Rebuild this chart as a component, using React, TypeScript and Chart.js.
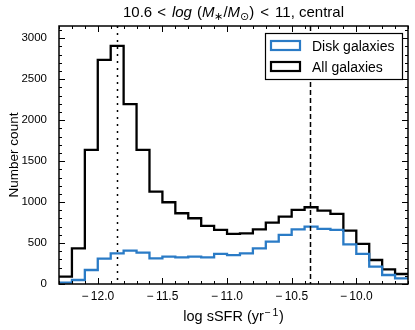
import React, { useEffect, useRef } from 'react';
import { Chart, registerables } from 'chart.js';

Chart.register(...registerables);

// ---- data ----
const binEdges = [
  -12.3, -12.2, -12.1, -12.0, -11.9, -11.8, -11.7, -11.6, -11.5, -11.4,
  -11.3, -11.2, -11.1, -11.0, -10.9, -10.8, -10.7, -10.6, -10.5, -10.4,
  -10.3, -10.2, -10.1, -10.0, -9.9, -9.8, -9.7, -9.6,
];
const diskCounts = [
  16, 49, 171, 310, 375, 407, 383, 314, 334, 326, 334, 326, 367,
  352, 375, 436, 517, 599, 668, 700, 672, 660, 485, 367, 212, 110, 69,
];
const allCounts = [
  90, 436, 1637, 2737, 2908, 2196, 1637, 1128, 998, 864, 803, 709, 660,
  611, 619, 668, 749, 823, 904, 937, 896, 855, 652, 489, 293, 179, 122,
];
const seriesLabels = ['Disk galaxies', 'All galaxies'];
const seriesColors = ['#2a7bc6', '#000000'];
const xTickValues = [-12.0, -11.5, -11.0, -10.5, -10.0];
const yTickValues = [0, 500, 1000, 1500, 2000, 2500, 3000];
const xLimits = [-12.3, -9.6];
const yLimits = [0, 3150];
const dottedLineX = -11.85;
const dashedLineX = -10.36;

const FONT = '"Liberation Sans", Arial, Helvetica, sans-serif';

function toSteps(counts: number[]) {
  const pts = counts.map((c, i) => ({ x: binEdges[i], y: c }));
  pts.push({ x: binEdges[binEdges.length - 1], y: counts[counts.length - 1] });
  return pts;
}

const decorPlugin = {
  id: 'decor',
  afterDatasetsDraw(chart: any) {
    const { ctx, chartArea: a, scales } = chart;
    const xs = scales.x;
    const ys = scales.y;
    ctx.save();

    // vertical reference lines
    ctx.strokeStyle = '#000';
    ctx.lineWidth = 1.5;
    ctx.setLineDash([2, 5]);
    let px = Math.round(xs.getPixelForValue(dottedLineX)) + 0.5;
    ctx.beginPath();
    ctx.moveTo(px, a.top);
    ctx.lineTo(px, a.bottom);
    ctx.stroke();
    ctx.setLineDash([5, 3]);
    px = Math.round(xs.getPixelForValue(dashedLineX)) + 0.5;
    ctx.beginPath();
    ctx.moveTo(px, a.top);
    ctx.lineTo(px, a.bottom);
    ctx.stroke();
    ctx.setLineDash([]);

    // inward ticks on all sides
    ctx.lineWidth = 1;
    const major = 6;
    const minor = 3;
    ctx.beginPath();
    for (let k = -123; k <= -96; k++) {
      const v = k / 10;
      const isMajor = k % 5 === 0;
      const len = isMajor ? major : minor;
      const p = Math.round(xs.getPixelForValue(v)) + 0.5;
      ctx.moveTo(p, a.bottom);
      ctx.lineTo(p, a.bottom - len);
      ctx.moveTo(p, a.top);
      ctx.lineTo(p, a.top + len);
    }
    for (let k = 0; k <= 31; k++) {
      const v = k * 100;
      const isMajor = k % 5 === 0;
      const len = isMajor ? major : minor;
      const p = Math.round(ys.getPixelForValue(v)) + 0.5;
      ctx.moveTo(a.left, p);
      ctx.lineTo(a.left + len, p);
      ctx.moveTo(a.right, p);
      ctx.lineTo(a.right - len, p);
    }
    ctx.stroke();

    // frame
    ctx.lineWidth = 1.5;
    ctx.strokeRect(a.left, a.top, a.right - a.left, a.bottom - a.top);

    // legend
    const bx = a.right - 143;
    const by = a.top + 7;
    const bw = 137;
    const bh = 46;
    ctx.fillStyle = '#fff';
    ctx.fillRect(bx, by, bw, bh);
    ctx.lineWidth = 1.2;
    ctx.strokeStyle = '#000';
    ctx.strokeRect(bx + 0.5, by + 0.5, bw, bh);
    ctx.font = `14px ${FONT}`;
    ctx.textBaseline = 'alphabetic';
    ctx.textAlign = 'left';
    chart.data.datasets.forEach((ds: any, i: number) => {
      const ry = by + 8 + i * 21;
      ctx.lineWidth = 2.2;
      ctx.strokeStyle = ds.borderColor;
      ctx.strokeRect(bx + 6, ry, 29, 9);
      ctx.fillStyle = '#000';
      ctx.fillText(ds.label, bx + 47, ry + 9.5);
    });

    // title with mixed styles
    const tSize = 15;
    const segs: { t: string; f: string; dy?: number; gap?: number }[] = [
      { t: '10.6', f: `${tSize}px ${FONT}` },
      { t: '<', f: `${tSize}px ${FONT}`, gap: 5 },
      { t: 'log', f: `italic ${tSize}px ${FONT}`, gap: 6 },
      { t: '(', f: `${tSize}px ${FONT}`, gap: 5 },
      { t: 'M', f: `italic ${tSize}px ${FONT}` },
      { t: '\u2217', f: `${tSize - 4}px ${FONT}`, dy: 3 },
      { t: '/', f: `${tSize}px ${FONT}` },
      { t: 'M', f: `italic ${tSize}px ${FONT}` },
      { t: '\u2299', f: `${tSize - 4}px "DejaVu Sans", ${FONT}`, dy: 3 },
      { t: ')', f: `${tSize}px ${FONT}` },
      { t: '<', f: `${tSize}px ${FONT}`, gap: 6 },
      { t: '11, central', f: `${tSize}px ${FONT}`, gap: 6 },
    ];
    let total = 0;
    segs.forEach((s) => {
      ctx.font = s.f;
      total += (s.gap || 0) + ctx.measureText(s.t).width;
    });
    let tx = (a.left + a.right) / 2 - total / 2;
    const tyBase = 16.5;
    ctx.fillStyle = '#000';
    segs.forEach((s) => {
      ctx.font = s.f;
      tx += s.gap || 0;
      ctx.fillText(s.t, tx, tyBase + (s.dy || 0));
      tx += ctx.measureText(s.t).width;
    });

    // x axis title
    const aSize = 14.5;
    const supSize = 10.5;
    const xa1 = 'log sSFR (yr';
    const xa2 = '\u2212\u20091';
    const xa3 = ')';
    ctx.font = `${aSize}px ${FONT}`;
    const w1 = ctx.measureText(xa1).width;
    const w3 = ctx.measureText(xa3).width;
    ctx.font = `${supSize}px ${FONT}`;
    const w2 = ctx.measureText(xa2).width;
    let ax = (a.left + a.right) / 2 - (w1 + w2 + w3 + 1) / 2;
    const abase = 321;
    ctx.font = `${aSize}px ${FONT}`;
    ctx.fillText(xa1, ax, abase);
    ax += w1 + 0.5;
    ctx.font = `${supSize}px ${FONT}`;
    ctx.fillText(xa2, ax, abase - 5.5);
    ax += w2 + 0.5;
    ctx.font = `${aSize}px ${FONT}`;
    ctx.fillText(xa3, ax, abase);

    // y axis title
    ctx.save();
    ctx.translate(18, (a.top + a.bottom) / 2);
    ctx.rotate(-Math.PI / 2);
    ctx.textAlign = 'center';
    ctx.textBaseline = 'alphabetic';
    ctx.font = `13.5px ${FONT}`;
    ctx.fillText('Number count', 0, 0);
    ctx.restore();

    ctx.restore();
  },
};

export default function App() {
  const ref = useRef<HTMLCanvasElement | null>(null);
  useEffect(() => {
    document.body.style.margin = '0';
    const canvas = ref.current;
    if (!canvas) return;
    const fmtX = (v: number) =>
      v < 0 ? '\u2212\u2009' + Math.abs(v).toFixed(1) : v.toFixed(1);
    const chart = new Chart(canvas, {
      type: 'line',
      data: {
        datasets: [
          {
            label: seriesLabels[0],
            data: toSteps(diskCounts),
            borderColor: seriesColors[0],
            borderWidth: 2.3,
            pointRadius: 0,
            stepped: true,
            fill: false,
          },
          {
            label: seriesLabels[1],
            data: toSteps(allCounts),
            borderColor: seriesColors[1],
            borderWidth: 2.3,
            pointRadius: 0,
            stepped: true,
            fill: false,
          },
        ],
      },
      options: {
        animation: false,
        responsive: false,
        maintainAspectRatio: false,
        layout: { padding: { top: 26, right: 7, left: 0, bottom: 0 } },
        plugins: {
          legend: { display: false },
          title: { display: false },
          tooltip: { enabled: false },
        },
        scales: {
          x: {
            type: 'linear',
            min: xLimits[0],
            max: xLimits[1],
            afterBuildTicks: (s: any) => {
              s.ticks = xTickValues.map((v) => ({ value: v }));
            },
            afterFit: (s: any) => {
              s.height = 46;
            },
            grid: { display: false, drawTicks: false },
            border: { display: false },
            ticks: {
              padding: 5,
              color: '#000',
              maxRotation: 0,
              autoSkip: false,
              font: { family: FONT, size: 12 },
              callback: (v: any) => fmtX(Number(v)),
            },
          },
          y: {
            type: 'linear',
            min: yLimits[0],
            max: yLimits[1],
            afterBuildTicks: (s: any) => {
              s.ticks = yTickValues.map((v) => ({ value: v }));
            },
            afterFit: (s: any) => {
              s.width = 59;
            },
            grid: { display: false, drawTicks: false },
            border: { display: false },
            ticks: {
              padding: 12,
              color: '#000',
              autoSkip: false,
              font: { family: FONT, size: 11.5 },
              callback: (v: any) => String(v),
            },
          },
        },
      },
      plugins: [decorPlugin],
    });
    return () => chart.destroy();
  }, []);
  return (
    <div style={{ width: 415, height: 330, background: '#fff' }}>
      <canvas ref={ref} width={415} height={330} style={{ display: 'block' }} />
    </div>
  );
}
